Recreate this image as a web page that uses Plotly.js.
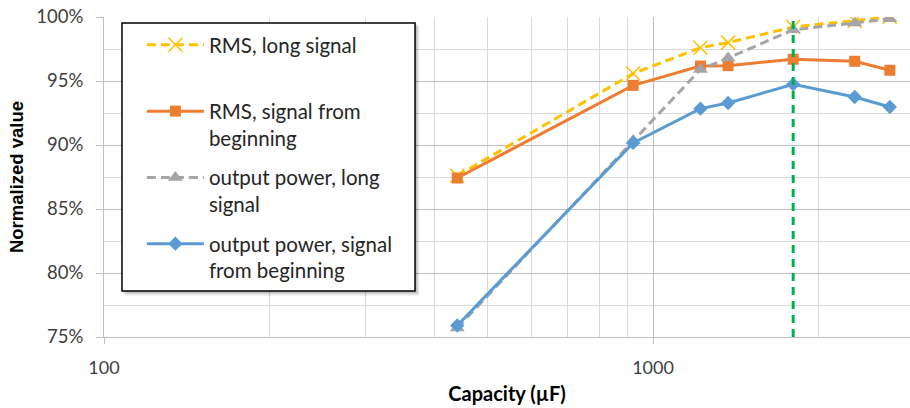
<!DOCTYPE html>
<html>
<head>
<meta charset="utf-8">
<script src="https://cdn.plot.ly/plotly-3.0.1.min.js"></script>
<style>
  html, body { margin: 0; padding: 0; background: #ffffff; }
  #chart { width: 910px; height: 408px; }
</style>
</head>
<body>
<div id="chart"></div>
<script>
// Capacitor values tested (µF) and normalized results for each measurement
const capacity = [440, 920, 1220, 1370, 1800, 2330, 2700];
const rmsLong = [0.876, 0.9558, 0.9760, 0.9800, 0.9922, 0.9969, 1.000];
const rmsBegin = [0.8742, 0.9466, 0.9617, 0.9620, 0.9670, 0.9654, 0.9584];
const powerLong = [0.757, 0.9035, 0.9590, 0.9680, 0.9900, 0.9953, 0.9987];
const powerBegin = [0.759, 0.9016, 0.9284, 0.9328, 0.9474, 0.9375, 0.9297];
const seriesNames = [
  'RMS, long signal<br>&nbsp;',
  'RMS, signal from<br>beginning',
  'output power, long<br>signal',
  'output power, signal<br>from beginning'
];
// Chosen capacitor value, marked by a vertical dashed line
const chosenCapacity = [1800];

const FONT = 'Lato, "Open Sans", sans-serif';

const traces = [
  {
    x: capacity, y: rmsLong, name: seriesNames[0], legendgroup: 'a',
    mode: 'lines+markers',
    line: { color: '#FFC000', width: 3, dash: '9px,5px' },
    marker: { symbol: 'x-thin', size: 14, line: { color: '#FFC000', width: 1.5 }, color: '#FFC000' }
  },
  {
    x: capacity, y: rmsBegin, name: seriesNames[1], legendgroup: 'b',
    mode: 'lines+markers',
    line: { color: '#ED7D31', width: 3 },
    marker: { symbol: 'square', size: 11, color: '#ED7D31' }
  },
  {
    x: capacity, y: powerLong, name: seriesNames[2], legendgroup: 'c',
    mode: 'lines+markers',
    line: { color: '#A5A5A5', width: 3, dash: '9px,5px' },
    marker: { symbol: 'triangle-up', size: 13, color: '#A5A5A5' }
  },
  {
    x: capacity, y: powerBegin, name: seriesNames[3], legendgroup: 'd',
    mode: 'lines+markers',
    line: { color: '#5B9BD5', width: 3 },
    marker: { symbol: 'diamond', size: 11, color: '#5B9BD5' }
  }
];

const box = { x0: 0.0223, x1: 0.3859, y0: 0.1438, y1: 0.9813 };

const layout = {
  width: 910, height: 408,
  margin: { l: 104, r: 0, t: 17, b: 71 },
  paper_bgcolor: '#ffffff',
  plot_bgcolor: '#ffffff',
  font: { family: FONT, color: '#404040', size: 18 },
  showlegend: true,
  legend: {
    x: 0.047, y: 0.975, xanchor: 'left', yanchor: 'top',
    bgcolor: 'rgba(0,0,0,0)', borderwidth: 0,
    font: { family: FONT, size: 20.5, color: '#262626' },
    itemwidth: 57, valign: 'top', tracegroupgap: 10,
    itemclick: false, itemdoubleclick: false
  },
  xaxis: {
    type: 'log',
    range: [2, Math.log10(2938)],
    dtick: 1,
    tickformat: 'd',
    showgrid: true, gridcolor: '#BFBFBF', gridwidth: 1,
    minor: { dtick: 'D1', showgrid: true, gridcolor: '#D9D9D9', gridwidth: 1 },
    showline: true, linecolor: '#BFBFBF', linewidth: 1,
    ticks: 'outside', ticklen: 6, tickcolor: '#BFBFBF',
    ticklabelstandoff: 8,
    zeroline: false,
    tickfont: { family: FONT, size: 18, color: '#404040' },
    title: { text: '<b>Capacity (µF)</b>', font: { family: FONT, size: 20, color: '#000000' }, standoff: 10 }
  },
  yaxis: {
    range: [0.75, 1.0],
    dtick: 0.05,
    tickformat: '.0%',
    showgrid: true, gridcolor: '#BFBFBF', gridwidth: 1,
    minor: { dtick: 0.025, showgrid: true, gridcolor: '#D9D9D9', gridwidth: 1 },
    showline: true, linecolor: '#BFBFBF', linewidth: 1,
    ticks: 'outside', ticklen: 7, tickcolor: '#BFBFBF',
    ticklabelstandoff: 9,
    zeroline: false,
    tickfont: { family: FONT, size: 18.5, color: '#404040' },
    title: { text: '<b>Normalized value</b>', font: { family: '"Liberation Sans", Arial, sans-serif', size: 18.5, color: '#000000' }, standoff: 7 }
  },
  shapes: [
    // chosen capacity marker
    {
      type: 'line', xref: 'x', yref: 'paper',
      x0: chosenCapacity[0], x1: chosenCapacity[0], y0: 0, y1: 1,
      line: { color: '#00B050', width: 3, dash: '8px,6px' }, layer: 'above'
    },
    // legend frame with soft shadow
    {
      type: 'rect', xref: 'paper', yref: 'paper', layer: 'above',
      x0: box.x0 + 0.004, x1: box.x1 + 0.005, y0: box.y0 - 0.014, y1: box.y1 - 0.01,
      fillcolor: 'rgba(0,0,0,0.10)', line: { width: 0 }
    },
    {
      type: 'rect', xref: 'paper', yref: 'paper', layer: 'above',
      x0: box.x0 + 0.002, x1: box.x1 + 0.003, y0: box.y0 - 0.008, y1: box.y1 - 0.005,
      fillcolor: 'rgba(0,0,0,0.15)', line: { width: 0 }
    },
    {
      type: 'rect', xref: 'paper', yref: 'paper', layer: 'above',
      x0: box.x0, x1: box.x1, y0: box.y0, y1: box.y1,
      fillcolor: '#ffffff', line: { color: '#000000', width: 1.5 }
    }
  ]
};

Plotly.newPlot('chart', traces, layout, { staticPlot: true, displayModeBar: false });
</script>
</body>
</html>
